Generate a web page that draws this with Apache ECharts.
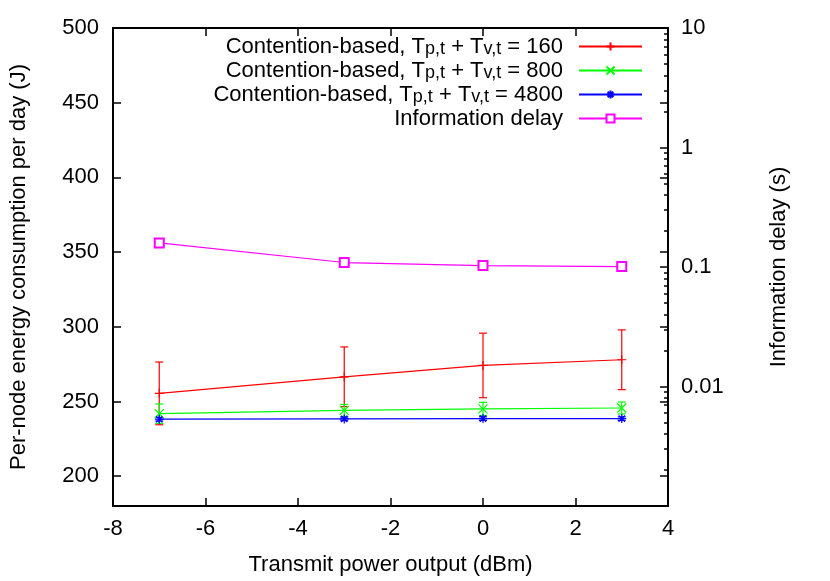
<!DOCTYPE html>
<html>
<head>
<meta charset="utf-8">
<script src="https://cdn.jsdelivr.net/npm/echarts@6/dist/echarts.min.js"></script>
<style>
html, body { margin: 0; padding: 0; background: #fff; }
#chart { width: 830px; height: 581px; }
</style>
</head>
<body>
<div id="chart"></div>
<script>
// transmit power (dBm)
var powers = [-7, -3, 0, 3];

// energy per node per day (J), mean and error half-width
var energy160 = [255.4, 266.5, 274.1, 277.9];
var err160 = [21, 20, 21.6, 20];
var energy800 = [241.8, 244, 245, 245.6];
var err800 = [6.5, 4, 4.4, 4];
var energy4800 = [238.1, 238.3, 238.5, 238.5];
var err4800 = [1.2, 1.2, 1.2, 1.2];

// information delay (s), right log axis
var delay = [0.159, 0.109, 0.1027, 0.1008];

var leftTicks = [200, 250, 300, 350, 400, 450, 500];
var rightMajor = [0.001, 0.01, 0.1, 1, 10];
var rightMinor = (function () {
    var res = [];
    [0.001, 0.01, 0.1, 1].forEach(function (d) {
        for (var k = 2; k <= 9; k++) res.push(+(d * k).toPrecision(3));
    });
    return res;
})();

var FONT = '"Liberation Sans", Arial, sans-serif';

var names = [
    'Contention-based, Tp,t + Tv,t = 160',
    'Contention-based, Tp,t + Tv,t = 800',
    'Contention-based, Tp,t + Tv,t = 4800',
    'Information delay'
];
var legendText = {};
legendText[names[0]] = '{n|Contention-based, T}{s|p,t}{n| + T}{s|v,t}{n| = 160}';
legendText[names[1]] = '{n|Contention-based, T}{s|p,t}{n| + T}{s|v,t}{n| = 800}';
legendText[names[2]] = '{n|Contention-based, T}{s|p,t}{n| + T}{s|v,t}{n| = 4800}';
legendText[names[3]] = '{n|Information delay}{s|\u200b}';

function pairs(ys) {
    return powers.map(function (x, i) { return [x, ys[i]]; });
}
function bars(ys, es) {
    return powers.map(function (x, i) { return [x, ys[i] - es[i], ys[i] + es[i]]; });
}
function errSeries(ys, es, color) {
    return {
        type: 'custom',
        xAxisIndex: 0,
        yAxisIndex: 0,
        silent: true,
        z: 1,
        data: bars(ys, es),
        renderItem: function (params, api) {
            var lo = api.coord([api.value(0), api.value(1)]);
            var hi = api.coord([api.value(0), api.value(2)]);
            var w = 4;
            var st = { stroke: color, lineWidth: 1.2 };
            return {
                type: 'group',
                children: [
                    { type: 'line', shape: { x1: lo[0], y1: lo[1], x2: hi[0], y2: hi[1] }, style: st },
                    { type: 'line', shape: { x1: lo[0] - w, y1: lo[1], x2: lo[0] + w, y2: lo[1] }, style: st },
                    { type: 'line', shape: { x1: hi[0] - w, y1: hi[1], x2: hi[0] + w, y2: hi[1] }, style: st }
                ]
            };
        }
    };
}
function lineSeries(name, data, color, symbol, yIdx) {
    return {
        name: name,
        type: 'line',
        xAxisIndex: 0,
        yAxisIndex: yIdx,
        data: data,
        symbol: symbol,
        symbolSize: 9,
        z: 3,
        lineStyle: { color: color, width: 1.2 },
        itemStyle: { color: color, borderColor: color, borderWidth: 1.2 },
        emphasis: { disabled: true }
    };
}

var tickStyle = { color: '#000', width: 1.5 };

var myChart = echarts.init(document.getElementById('chart'));
myChart.setOption({
    animation: false,
    backgroundColor: '#fff',
    textStyle: { fontFamily: FONT },
    grid: {
        left: 112, right: 162, top: 28, bottom: 74,
        show: true, borderColor: '#000', borderWidth: 2, backgroundColor: 'transparent'
    },
    legend: {
        data: names,
        orient: 'vertical',
        right: 182,
        top: 24,
        align: 'right',
        itemWidth: 63,
        itemHeight: 10,
        itemGap: -5,
        formatter: function (n) { return legendText[n]; },
        textStyle: {
            padding: [0, 11, 0, 0],
            rich: {
                n: { fontSize: 22, fontFamily: FONT, color: '#000', lineHeight: 23 },
                s: { fontSize: 18, fontFamily: FONT, color: '#000', verticalAlign: 'bottom', lineHeight: 23, padding: [11, 0, 0, 0] }
            }
        },
        selectedMode: false
    },
    xAxis: [{
        type: 'value',
        min: -8, max: 4, interval: 2,
        name: 'Transmit power output (dBm)',
        nameLocation: 'middle',
        nameGap: 48,
        nameTextStyle: { fontSize: 22, color: '#000', fontFamily: FONT },
        axisLine: { show: false, onZero: false },
        axisTick: { inside: true, length: 8, lineStyle: tickStyle },
        axisLabel: { fontSize: 22, color: '#000', margin: 12, fontFamily: FONT },
        splitLine: { show: false }
    }, {
        type: 'value',
        position: 'top',
        min: -8, max: 4, interval: 2,
        axisLine: { show: false, onZero: false },
        axisTick: { inside: true, length: 8, lineStyle: tickStyle },
        axisLabel: { show: false },
        splitLine: { show: false }
    }],
    yAxis: [{
        type: 'value',
        position: 'left',
        min: 180, max: 500,
        name: 'Per-node energy consumption per day (J)',
        nameLocation: 'middle',
        nameRotate: 90,
        nameGap: 83,
        nameTextStyle: { fontSize: 22, color: '#000', fontFamily: FONT },
        axisLine: { show: false, onZero: false },
        axisTick: { inside: true, length: 8, customValues: leftTicks, lineStyle: tickStyle },
        axisLabel: { fontSize: 22, color: '#000', margin: 14, customValues: leftTicks, fontFamily: FONT },
        splitLine: { show: false }
    }, {
        type: 'log',
        logBase: 10,
        position: 'right',
        min: 0.001, max: 10,
        name: 'Information delay (s)',
        nameLocation: 'middle',
        nameRotate: 90,
        nameGap: 100,
        nameTextStyle: { fontSize: 22, color: '#000', fontFamily: FONT },
        axisLine: { show: false, onZero: false },
        axisTick: { inside: true, length: 8, customValues: rightMajor, lineStyle: tickStyle },
        axisLabel: {
            fontSize: 22, color: '#000', margin: 13, fontFamily: FONT,
            customValues: rightMajor,
            formatter: function (v) { return v <= 0.0015 ? '' : String(+(+v).toPrecision(6)); }
        },
        splitLine: { show: false }
    }, {
        type: 'log',
        logBase: 10,
        position: 'right',
        offset: 0,
        min: 0.001, max: 10,
        axisLine: { show: false, onZero: false },
        axisTick: { inside: true, length: 4, customValues: rightMinor, lineStyle: tickStyle },
        axisLabel: { show: false },
        splitLine: { show: false }
    }, {
        type: 'value',
        position: 'right',
        offset: 0,
        min: 180, max: 500,
        axisLine: { show: false, onZero: false },
        axisTick: { inside: true, length: 8, customValues: leftTicks, lineStyle: tickStyle },
        axisLabel: { show: false },
        splitLine: { show: false }
    }],
    series: [
        errSeries(energy160, err160, '#ff0000'),
        errSeries(energy800, err800, '#00ff00'),
        errSeries(energy4800, err4800, '#0000ff'),
        lineSeries(names[0], pairs(energy160), '#ff0000', 'path://M0,5L10,5M5,0L5,10', 0),
        lineSeries(names[1], pairs(energy800), '#00ff00', 'path://M0,0L10,10M10,0L0,10', 0),
        lineSeries(names[2], pairs(energy4800), '#0000ff', 'path://M0,5L10,5M5,0L5,10M1.5,1.5L8.5,8.5M8.5,1.5L1.5,8.5', 0),
        lineSeries(names[3], pairs(delay), '#ff00ff', 'emptyRect', 1)
    ]
});
</script>
</body>
</html>
